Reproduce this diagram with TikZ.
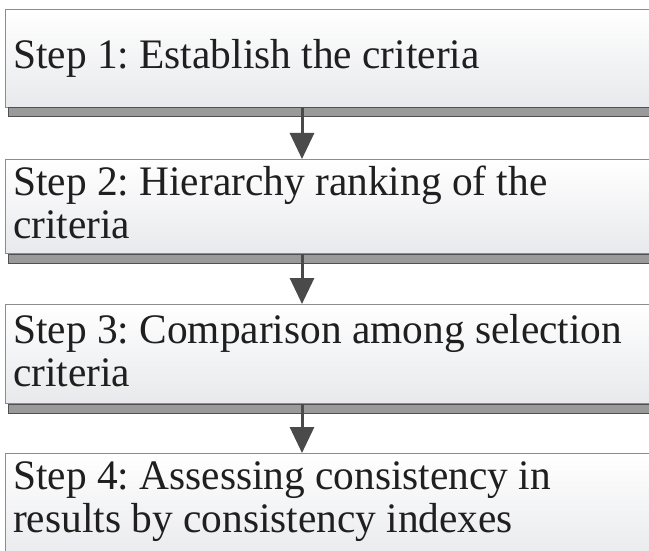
\documentclass[tikz,border=0pt]{standalone}
\usepackage{fontspec}
\usepackage{graphicx}
\setmainfont{Liberation Serif}
\usetikzlibrary{arrows.meta}
\definecolor{boxline}{HTML}{8C8C8C}
\definecolor{boxbot}{HTML}{E8E9EC}
\definecolor{shadefill}{HTML}{9A9A9A}
\definecolor{shadeline}{HTML}{505050}
\definecolor{arrowcol}{HTML}{4A4A4A}
\newcommand{\steplines}[1]{\scalebox{0.985}[1]{\begin{tabular}[t]{@{}l@{}}#1\end{tabular}}}
\begin{document}
\frenchspacing
\begin{tikzpicture}[x=1pt,y=-1pt,
  stepbox/.style={draw=boxline, line width=1pt, top color=white, bottom color=boxbot,
    minimum width=680pt, anchor=north west, inner sep=0pt},
  steptext/.style={anchor=base west, inner sep=0pt, text=black!88,
    font=\fontsize{42}{43}\selectfont},
  shadowbar/.style={fill=shadefill, draw=shadeline, line width=1pt},
  flowarrow/.style={draw=arrowcol, line width=3pt,
    -{Triangle[width=24pt,length=26pt]}, arrowcol}]
\useasboundingbox (0,0) rectangle (649,551);
\clip (0,0) rectangle (649,551);
\fill[white] (0,0) rectangle (649,551);
\coordinate (ax) at (302,0);
% boxes
\node[stepbox, minimum height=98pt] (s1) at (5,9) {};
\node[stepbox, minimum height=94pt] (s2) at (5,159) {};
\node[stepbox, minimum height=99pt] (s3) at (5,304) {};
\node[stepbox, minimum height=110pt] (s4) at (5,453) {};
% texts
\node[steptext] (t1) at (13,69) {\steplines{Step 1: Establish the criteria}};
\node[steptext] (t2) at (13,196) {\steplines{Step 2: Hierarchy ranking of the\\criteria}};
\node[steptext] (t3) at (13,343) {\steplines{Step 3: Comparison among selection\\criteria}};
\node[steptext] (t4) at (13,489) {\steplines{Step 4: Assessing consistency in\\results by consistency indexes}};
% shadows
\foreach \b in {s1,s2,s3}{
  \path[shadowbar] ([xshift=3pt]\b.south west) rectangle ([xshift=10pt,yshift=-9pt]\b.south east);
}
% arrows
\draw[flowarrow] (s1.south -| ax) -- (s2.north -| ax);
\draw[flowarrow] (s2.south -| ax) -- (s3.north -| ax);
\draw[flowarrow] (s3.south -| ax) -- (s4.north -| ax);
\end{tikzpicture}
\end{document}
